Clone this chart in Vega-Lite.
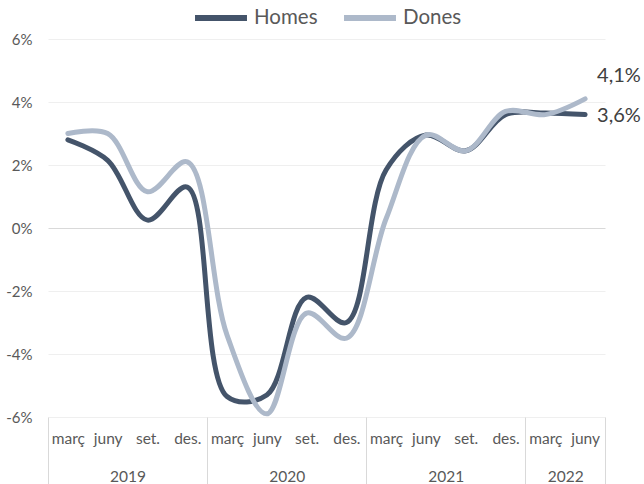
{
  "$schema": "https://vega.github.io/schema/vega-lite/v6.json",
  "width": 557,
  "height": 378,
  "autosize": "none",
  "padding": {"left": 48, "top": 39, "right": 39, "bottom": 67},
  "config": {"view": {"stroke": null}, "font": "Lato"},
  "data": {
    "values": [
      {"any": 2019, "n": 1, "trimestre": "març", "sexe": "Homes", "valor": 2.8},
      {"any": 2019, "n": 2, "trimestre": "juny", "sexe": "Homes", "valor": 2.15},
      {"any": 2019, "n": 3, "trimestre": "set.", "sexe": "Homes", "valor": 0.25},
      {"any": 2019, "n": 4, "trimestre": "des.", "sexe": "Homes", "valor": 1.3},
      {"any": 2020, "n": 1, "trimestre": "març", "sexe": "Homes", "valor": -5.35},
      {"any": 2020, "n": 2, "trimestre": "juny", "sexe": "Homes", "valor": -5.3},
      {"any": 2020, "n": 3, "trimestre": "set.", "sexe": "Homes", "valor": -2.2},
      {"any": 2020, "n": 4, "trimestre": "des.", "sexe": "Homes", "valor": -3.0},
      {"any": 2021, "n": 1, "trimestre": "març", "sexe": "Homes", "valor": 1.85},
      {"any": 2021, "n": 2, "trimestre": "juny", "sexe": "Homes", "valor": 2.95},
      {"any": 2021, "n": 3, "trimestre": "set.", "sexe": "Homes", "valor": 2.45},
      {"any": 2021, "n": 4, "trimestre": "des.", "sexe": "Homes", "valor": 3.6},
      {"any": 2022, "n": 1, "trimestre": "març", "sexe": "Homes", "valor": 3.65},
      {"any": 2022, "n": 2, "trimestre": "juny", "sexe": "Homes", "valor": 3.6},
      {"any": 2019, "n": 1, "trimestre": "març", "sexe": "Dones", "valor": 3.0},
      {"any": 2019, "n": 2, "trimestre": "juny", "sexe": "Dones", "valor": 3.0},
      {"any": 2019, "n": 3, "trimestre": "set.", "sexe": "Dones", "valor": 1.15},
      {"any": 2019, "n": 4, "trimestre": "des.", "sexe": "Dones", "valor": 2.1},
      {"any": 2020, "n": 1, "trimestre": "març", "sexe": "Dones", "valor": -3.4},
      {"any": 2020, "n": 2, "trimestre": "juny", "sexe": "Dones", "valor": -5.9},
      {"any": 2020, "n": 3, "trimestre": "set.", "sexe": "Dones", "valor": -2.7},
      {"any": 2020, "n": 4, "trimestre": "des.", "sexe": "Dones", "valor": -3.5},
      {"any": 2021, "n": 1, "trimestre": "març", "sexe": "Dones", "valor": 0.3},
      {"any": 2021, "n": 2, "trimestre": "juny", "sexe": "Dones", "valor": 2.95},
      {"any": 2021, "n": 3, "trimestre": "set.", "sexe": "Dones", "valor": 2.45},
      {"any": 2021, "n": 4, "trimestre": "des.", "sexe": "Dones", "valor": 3.7},
      {"any": 2022, "n": 1, "trimestre": "març", "sexe": "Dones", "valor": 3.6},
      {"any": 2022, "n": 2, "trimestre": "juny", "sexe": "Dones", "valor": 4.1}
    ]
  },
  "transform": [
    {"calculate": "(datum.any - 2019) * 4 + datum.n - 0.5", "as": "t"},
    {"calculate": "replace(format(datum.valor, '.1f'), '.', ',') + '%'", "as": "etiqueta"}
  ],
  "layer": [
    {
      "mark": {"type": "rule", "strokeOpacity": 0},
      "encoding": {
        "x": {
          "field": "t", "type": "quantitative",
          "scale": {"domain": [0, 14], "nice": false, "zero": false},
          "axis": {
            "orient": "bottom", "title": null, "values": [0, 4, 8, 12, 14],
            "labels": false, "domain": false, "grid": false,
            "ticks": true, "tickSize": 67, "tickColor": "#d9d9d9", "tickWidth": 1
          }
        }
      }
    },
    {
      "mark": {"type": "rule", "strokeOpacity": 0},
      "encoding": {
        "x": {
          "field": "t", "type": "quantitative",
          "scale": {"domain": [0, 14], "nice": false, "zero": false},
          "axis": {
            "orient": "bottom", "title": null, "values": [2, 6, 10, 13],
            "labelExpr": "'' + (2019 + floor(datum.value / 4))",
            "domain": false, "grid": false, "ticks": false,
            "labelPadding": 52, "labelFontSize": 15.5, "labelColor": "#595959",
            "labelOverlap": false, "labelFlush": false, "labelBound": false
          }
        }
      }
    },
    {
      "mark": {"type": "line", "interpolate": "catmull-rom", "strokeWidth": 5, "strokeCap": "round"},
      "encoding": {
        "x": {
          "field": "t", "type": "quantitative",
          "scale": {"domain": [0, 14], "nice": false, "zero": false},
          "axis": {
            "orient": "bottom", "title": null,
            "values": [0.5, 1.5, 2.5, 3.5, 4.5, 5.5, 6.5, 7.5, 8.5, 9.5, 10.5, 11.5, 12.5, 13.5],
            "labelExpr": "['març', 'juny', 'set.', 'des.'][floor(datum.value) % 4]",
            "domain": false, "grid": false, "ticks": false,
            "labelPadding": 14, "labelFontSize": 15.5, "labelColor": "#595959",
            "labelOverlap": false, "labelFlush": false, "labelBound": false
          }
        },
        "y": {
          "field": "valor", "type": "quantitative",
          "scale": {"domain": [-6, 6], "nice": false, "zero": false},
          "axis": {
            "title": null, "values": [-6, -4, -2, 0, 2, 4, 6],
            "labelExpr": "datum.value + '%'",
            "domain": false, "ticks": false, "labelPadding": 16,
            "labelFontSize": 15, "labelColor": "#595959",
            "grid": true,
            "gridColor": {"condition": {"test": "datum.value === 0", "value": "#d9d9d9"}, "value": "#efefef"},
            "gridWidth": 1
          }
        },
        "color": {
          "field": "sexe", "type": "nominal",
          "scale": {"domain": ["Homes", "Dones"], "range": ["#44546a", "#adb9ca"]},
          "legend": {
            "orient": "none", "legendX": 144, "legendY": -50, "direction": "horizontal",
            "title": null, "symbolType": "stroke", "symbolStrokeWidth": 6, "symbolSize": 2700,
            "labelFontSize": 20.5, "labelColor": "#595959", "columnPadding": 14, "labelOffset": 4
          }
        }
      }
    },
    {
      "transform": [{"filter": "datum.any == 2022 && datum.n == 2 && datum.sexe == 'Dones'"}],
      "mark": {"type": "text", "align": "left", "baseline": "middle", "dx": 12, "dy": -23, "fontSize": 20, "color": "#404040"},
      "encoding": {
        "x": {"field": "t", "type": "quantitative", "axis": null},
        "y": {"field": "valor", "type": "quantitative"},
        "text": {"field": "etiqueta"}
      }
    },
    {
      "transform": [{"filter": "datum.any == 2022 && datum.n == 2 && datum.sexe == 'Homes'"}],
      "mark": {"type": "text", "align": "left", "baseline": "middle", "dx": 12, "dy": 1, "fontSize": 20, "color": "#404040"},
      "encoding": {
        "x": {"field": "t", "type": "quantitative", "axis": null},
        "y": {"field": "valor", "type": "quantitative"},
        "text": {"field": "etiqueta"}
      }
    }
  ],
  "resolve": {"axis": {"x": "independent"}}
}
